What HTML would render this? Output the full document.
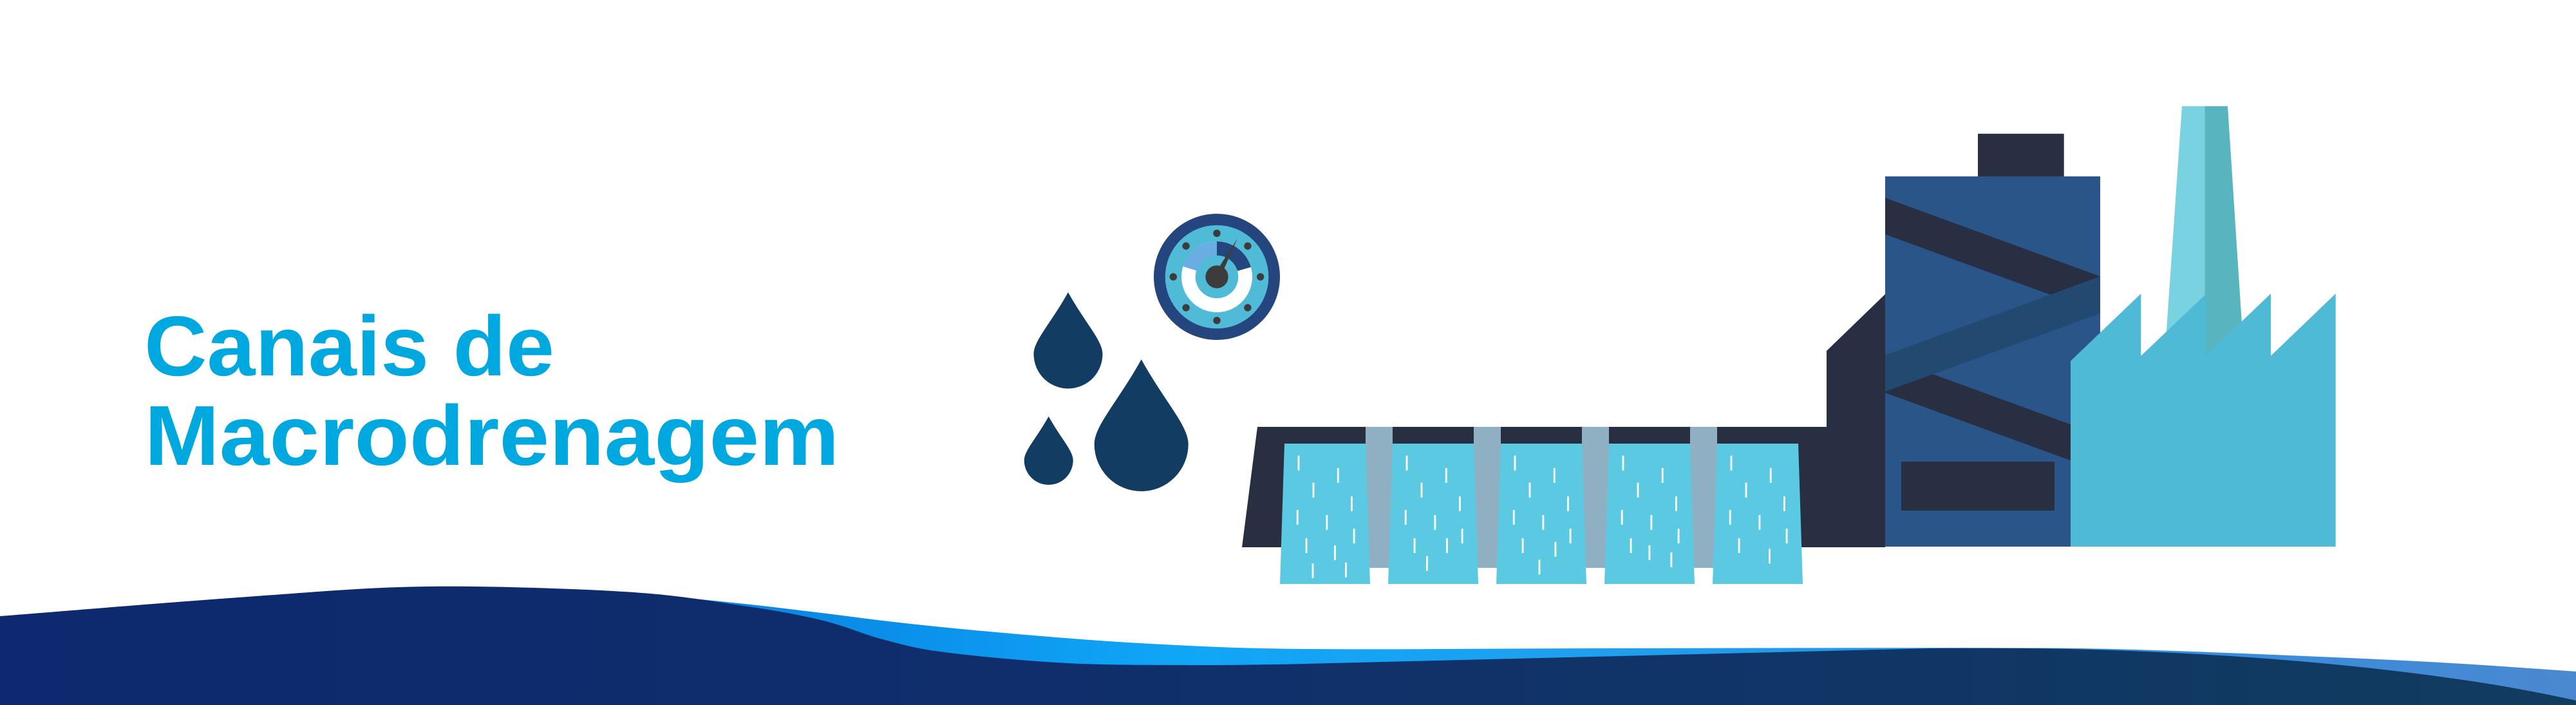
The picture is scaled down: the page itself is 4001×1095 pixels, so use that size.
<!DOCTYPE html>
<html>
<head>
<meta charset="utf-8">
<style>
  html, body { margin:0; padding:0; background:#ffffff; }
  body { width:4001px; height:1095px; overflow:hidden; }
  svg { display:block; }
</style>
</head>
<body>
<svg width="4001" height="1095" viewBox="0 0 4001 1095" xmlns="http://www.w3.org/2000/svg">
  <defs>
    <linearGradient id="darkG" gradientUnits="userSpaceOnUse" x1="0" y1="0" x2="4001" y2="0">
      <stop offset="0" stop-color="#0e296f"/>
      <stop offset="0.4" stop-color="#0f2e6b"/>
      <stop offset="0.65" stop-color="#103468"/>
      <stop offset="1" stop-color="#113c5f"/>
    </linearGradient>
    <linearGradient id="bandG" gradientUnits="userSpaceOnUse" x1="900" y1="0" x2="4001" y2="0">
      <stop offset="0" stop-color="#0a7bd9"/>
      <stop offset="0.15" stop-color="#0a8fe9"/>
      <stop offset="0.3" stop-color="#10a6f7"/>
      <stop offset="0.5" stop-color="#1ea0f0"/>
      <stop offset="0.7" stop-color="#2a93e2"/>
      <stop offset="0.85" stop-color="#3a8cda"/>
      <stop offset="1" stop-color="#4b88d0"/>
    </linearGradient>
    <clipPath id="bldClip">
      <rect x="2928" y="274" width="334" height="575"/>
    </clipPath>
  </defs>

  <!-- Title -->
  <text x="224" y="583" font-family="'Liberation Sans', Arial, sans-serif" font-weight="bold" font-size="132" fill="#00a8e0" textLength="637" lengthAdjust="spacingAndGlyphs">Canais de</text>
  <text x="224.4" y="722" font-family="'Liberation Sans', Arial, sans-serif" font-weight="bold" font-size="132" fill="#00a8e0" textLength="1079" lengthAdjust="spacingAndGlyphs">Macrodrenagem</text>

  <!-- Drops -->
  <g fill="#133c62">
    <path d="M1659,454 C1685.75,502 1712.5,528.9 1712.5,550 A53.5,53.5 0 0 1 1605.5,550 C1605.5,528.9 1632.25,502 1659,454 Z"/>
    <path d="M1628.7,646.7 C1647.7,680.85 1666.7,699.97 1666.7,715 A38,38 0 0 1 1590.7,715 C1590.7,699.97 1609.7,680.85 1628.7,646.7 Z"/>
    <path d="M1772.7,558.3 C1809.2,624.15 1845.7,661 1845.7,690 A73,73 0 0 1 1699.7,690 C1699.7,661 1736.2,624.15 1772.7,558.3 Z"/>
  </g>

  <!-- Gauge -->
  <circle cx="1890" cy="430" r="98" fill="#24457d"/>
  <circle cx="1890" cy="430" r="80.3" fill="#50bbd7"/>
  <circle cx="1890" cy="430" r="55" fill="#ffffff"/>
  <path d="M1890,430 L1890,375 A55,55 0 0 1 1942.87,414.84 Z" fill="#24457d"/>
  <path d="M1890,430 L1837.4,413.92 A55,55 0 0 1 1890,375 Z" fill="#69ade3"/>
  <circle cx="1890" cy="430" r="33.3" fill="#50bbd7"/>
  <g fill="#3c3c3c">
    <circle cx="1957.7" cy="430" r="5.7"/>
    <circle cx="1937.9" cy="382.1" r="5.7"/>
    <circle cx="1890" cy="362.3" r="5.7"/>
    <circle cx="1842.1" cy="382.1" r="5.7"/>
    <circle cx="1822.3" cy="430" r="5.7"/>
    <circle cx="1842.1" cy="477.9" r="5.7"/>
    <circle cx="1890" cy="497.7" r="5.7"/>
    <circle cx="1937.9" cy="477.9" r="5.7"/>
    <polygon points="1894.6,432.5 1885.4,427.5 1921.7,371"/>
    <circle cx="1890" cy="430" r="17.7"/>
  </g>

  <!-- Dam frame + dark tall building -->
  <path d="M1953,663 L2837,663 L2837,545 L2928,457 L2928,850 L1929,850 Z" fill="#292f43"/>

  <!-- Pillars -->
  <g fill="#8fb0c3">
    <rect x="2121" y="663" width="42" height="219"/>
    <rect x="2289" y="663" width="42" height="219"/>
    <rect x="2457" y="663" width="42" height="219"/>
    <rect x="2625" y="663" width="42" height="219"/>
  </g>

  <!-- Blue building -->
  <rect x="3072" y="207.7" width="133.7" height="67" fill="#282f42"/>
  <rect x="2928" y="274" width="334" height="575" fill="#295588"/>
  <g clip-path="url(#bldClip)">
    <polygon points="2928,307.3 3262,429.3 3262,486 2928,364" fill="#282f42"/>
    <polygon points="2928,554 3262,676 3262,732 2928,610" fill="#282f42"/>
    <polygon points="2928,551.7 3262,429.3 3262,486.7 2928,608.3" fill="#22496f"/>
  </g>
  <rect x="2953" y="717" width="238" height="76" fill="#282f42"/>

  <!-- Tall chimney -->
  <polygon points="3389,165 3424.3,165 3424.3,620 3357.6,620" fill="#78d2e0"/>
  <polygon points="3424.3,165 3460,165 3489.6,620 3424.3,620" fill="#58b5c0"/>

  <!-- Factory -->
  <path d="M3216,849 L3216,560.7 L3325.3,456 L3325.3,552.7 L3425.7,457.3 L3425.7,552.7 L3527,456 L3527,552.7 L3627.7,456 L3627.7,849 Z" fill="#4fbad6"/>

  <!-- Waterfalls -->
  <g fill="#5bc9e2">
    <polygon points="1995,689 2121,689 2128,907 1988,907"/>
    <polygon points="2163,689 2289,689 2296,907 2156,907"/>
    <polygon points="2331,689 2457,689 2464,907 2324,907"/>
    <polygon points="2499,689 2625,689 2632,907 2492,907"/>
    <polygon points="2667,689 2793,689 2800,907 2660,907"/>
  </g>

  <!-- Streaks -->
  <g fill="#ffffff">
    <!-- fall 1 (1995) -->
    <rect x="2015.6" y="707.7" width="2.8" height="23"/>
    <rect x="2076.8" y="727" width="2.8" height="23"/>
    <rect x="2038.6" y="749.7" width="2.8" height="23"/>
    <rect x="2098" y="771" width="2.8" height="23"/>
    <rect x="2013.8" y="792" width="2.8" height="23"/>
    <rect x="2059.5" y="800" width="2.8" height="23"/>
    <rect x="2101.7" y="821" width="2.8" height="23"/>
    <rect x="2027.7" y="836" width="2.8" height="23"/>
    <rect x="2072" y="847" width="2.8" height="23"/>
    <rect x="2037.6" y="875" width="2.8" height="23"/>
    <rect x="2089" y="873.7" width="2.8" height="23"/>
    <!-- fall 2 (2163) -->
    <rect x="2183.6" y="707.7" width="2.8" height="23"/>
    <rect x="2244.8" y="727" width="2.8" height="23"/>
    <rect x="2206.6" y="749.7" width="2.8" height="23"/>
    <rect x="2266" y="771" width="2.8" height="23"/>
    <rect x="2181.8" y="792" width="2.8" height="23"/>
    <rect x="2227.5" y="800" width="2.8" height="23"/>
    <rect x="2269.7" y="821" width="2.8" height="23"/>
    <rect x="2195.7" y="836" width="2.8" height="23"/>
    <rect x="2246" y="836" width="2.8" height="23"/>
    <rect x="2215" y="863.7" width="2.8" height="23"/>
    <!-- fall 3 (2331) -->
    <rect x="2351.6" y="707.7" width="2.8" height="23"/>
    <rect x="2412.8" y="727" width="2.8" height="23"/>
    <rect x="2374.6" y="749.7" width="2.8" height="23"/>
    <rect x="2434" y="771" width="2.8" height="23"/>
    <rect x="2349.8" y="792" width="2.8" height="23"/>
    <rect x="2395.5" y="800" width="2.8" height="23"/>
    <rect x="2437.7" y="821" width="2.8" height="23"/>
    <rect x="2363.7" y="836" width="2.8" height="23"/>
    <rect x="2414.5" y="841.7" width="2.8" height="23"/>
    <rect x="2389.6" y="869.3" width="2.8" height="23"/>
    <!-- fall 4 (2499) -->
    <rect x="2519.6" y="707.7" width="2.8" height="23"/>
    <rect x="2580.8" y="727" width="2.8" height="23"/>
    <rect x="2542.6" y="749.7" width="2.8" height="23"/>
    <rect x="2602" y="771" width="2.8" height="23"/>
    <rect x="2517.8" y="792" width="2.8" height="23"/>
    <rect x="2563.5" y="800" width="2.8" height="23"/>
    <rect x="2605.7" y="821" width="2.8" height="23"/>
    <rect x="2531.7" y="836" width="2.8" height="23"/>
    <rect x="2560.5" y="847" width="2.8" height="23"/>
    <rect x="2594.5" y="858" width="2.8" height="23"/>
    <!-- fall 5 (2667) -->
    <rect x="2687.6" y="707.7" width="2.8" height="23"/>
    <rect x="2748.8" y="727" width="2.8" height="23"/>
    <rect x="2710.6" y="749.7" width="2.8" height="23"/>
    <rect x="2770" y="771" width="2.8" height="23"/>
    <rect x="2685.8" y="792" width="2.8" height="23"/>
    <rect x="2731.5" y="800" width="2.8" height="23"/>
    <rect x="2773.7" y="821" width="2.8" height="23"/>
    <rect x="2699.7" y="836" width="2.8" height="23"/>
    <rect x="2747" y="852.3" width="2.8" height="23"/>
  </g>

  <!-- Wave: light band (back) -->
  <path d="M700,912 L834.5,915.7 Q969,919.3 1058.5,928 Q1148,936.7 1211.5,944.2 Q1275,951.7 1339,960 Q1403,968.3 1498.5,977.5 Q1594,986.7 1690,993.7 Q1786,1000.7 1893,1005 Q2000,1009.3 2191.5,1008.2 Q2383,1007 2727.5,1006.5 Q3072,1006 3174,1006.5 Q3276,1007 3403.5,1011.9 Q3531,1016.7 3658.5,1022.4 Q3786,1028 3893.5,1035.5 L4001,1043 L4001,1095 L700,1095 Z" fill="url(#bandG)"/>

  <!-- Wave: dark (front) -->
  <path d="M0,957 C63.8,952 272.5,934.7 383,927 C493.5,919.3 565.3,912.3 663,911 C760.7,909.7 888.2,914.2 969,919 C1049.8,923.8 1097,932.7 1148,940 C1199,947.3 1237.8,954.2 1275,963 C1312.2,971.8 1339,984.7 1371,993 C1403,1001.3 1419.2,1006.8 1467,1013 C1514.8,1019.2 1594.3,1026.7 1658,1030 C1721.7,1033.3 1792,1032.7 1849,1033 C1906,1033.3 1974.8,1031.9 2000,1031.7 L3000,1007 Q3150,1006 3250,1009 Q3350,1012 3440.5,1017.5 Q3531,1023 3615.5,1031 Q3700,1039 3775,1049 Q3850,1059 3900,1068 Q3950,1077 3975.5,1082.5 L4001,1088 L4001,1095 L0,1095 Z" fill="url(#darkG)"/>
</svg>
</body>
</html>
